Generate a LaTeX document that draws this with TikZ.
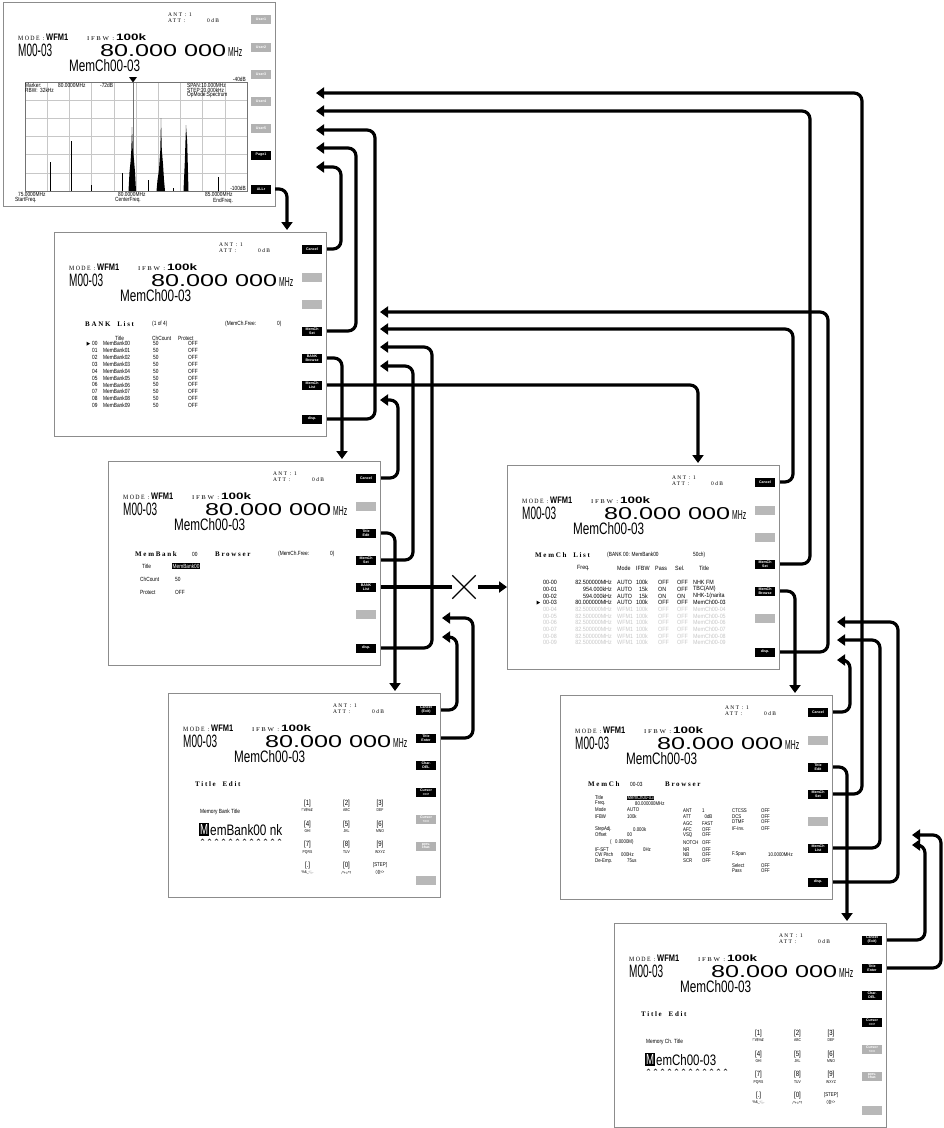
\documentclass[tikz,border=0pt]{standalone}
\usepackage{fontspec}
\usepackage{graphicx}
\setmainfont{Liberation Sans}
\newfontfamily\tnfam[FakeStretch=0.8]{Liberation Sans}
\newfontfamily\lsfam[FakeStretch=0.88]{Liberation Sans}
\newfontfamily\wdfam[LetterSpace=24]{Liberation Serif}
\usetikzlibrary{arrows.meta,calc,shapes.misc}
\newcommand\tnfont{\tnfam\fontsize{6}{6.5}\selectfont}
\newcommand\smfont{\tnfam\fontsize{5.4}{6}\selectfont}
\newcommand\spfont{\tnfam\fontsize{6}{6}\selectfont}
\newcommand\lsfont{\lsfam\fontsize{6.1}{7}\selectfont}
\newcommand\btnfont{\fontsize{3.6}{3.9}\selectfont\bfseries}
\newcommand\hdfont{\wdfam\bfseries\fontsize{7}{7}\selectfont}
\newcommand\atfont{\wdfam\fontsize{5.5}{6}\selectfont}
\newcommand\rb[3]{\resizebox{#1pt}{#2pt}{#3}}
\tikzset{
 scr/.style={draw=black!45,line width=0.8pt,fill=white,minimum width=272pt,minimum height=204pt,anchor=north west,inner sep=0pt,outer sep=0pt},
 kb/.style={fill=black,text=white,minimum width=20pt,minimum height=9pt,inner sep=0pt,font=\btnfont,align=center},
 kg/.style={fill=black!28,minimum width=20pt,minimum height=9pt,inner sep=0pt},
 kd/.style={fill=black!30,text=white,minimum width=20pt,minimum height=9pt,inner sep=0pt,font=\btnfont,align=center},
 tx/.style={inner sep=0pt,anchor=west,font=\tnfont},
 sx/.style={tx,font=\smfont},
 lt/.style={tx,font=\lsfont},
 kt/.style={inner sep=0pt,font=\tnfam\fontsize{7.5}{7.5}\selectfont},
 ks/.style={inner sep=0pt,font=\tnfam\fontsize{4.2}{4.2}\selectfont},
 grd/.style={draw=black!22,line width=0.5pt},
 conn/.style={line width=3.2pt,rounded corners=8pt},
 arr/.style={conn,-{Triangle[width=11pt,length=8pt]}},
}
\newcommand\ScrHead[1]{%
 \node[tx,anchor=base west,font=\atfont] (#1ant) at (165,14) {ANT : 1};
 \node[tx,anchor=base west,font=\atfont] (#1att) at (165,20) {ATT :};
 \node[tx,anchor=base west,font=\atfont] (#1db) at (204,20) {0dB};
 \node[tx,anchor=base west] (#1mode) at (15,38.5) {\rb{26}{4.3}{\wdfam MODE :}};
 \node[tx,anchor=base west] (#1wfm) at (43,38.5) {\rb{22}{6.5}{\bfseries WFM1}};
 \node[tx,anchor=base west] (#1ifbw) at (84,38.5) {\rb{27}{3.8}{\wdfam IFBW :}};
 \node[tx,anchor=base west] (#1bw) at (113,38.5) {\rb{30}{6.7}{\bfseries 100k}};
 \node[tx,anchor=base west] (#1ch) at (15,54) {\rb{34}{12.5}{M00-03}};
 \node[tx,anchor=base west] (#1fq) at (97,54) {\rb{126}{12}{80.000 000}};
 \node[tx,anchor=base west] (#1mhz) at (225,54) {\rb{14}{9}{MHz}};
 \node[tx,anchor=base west] (#1nm) at (66,69.5) {\rb{71}{12}{MemCh00-03}};
}
\newcommand\ScrBtn[4]{\node[#2] (#1) at (258,#3) {#4};}
\newcommand\ScrKey[5]{\node[kt] (#1) at (#2,#3) {#4}; \node[ks] (#1s) at (#2,#3+7) {#5};}
\newcommand\ScrTitleEdit[5]{%
 \node[tx,font=\hdfont] (#1te) at (27,91) {Title\ \ Edit};
 \node[tx] (#1lb) at (32,119) {#2};
 \node[fill=black,text=white,inner sep=0pt,minimum width=10pt,minimum height=13pt,anchor=south west] (#1cur) at (31,143) {\rb{8}{10}{M}};
 \node[tx,anchor=base west] (#1nmt) at (42,142) {\rb{#4}{11}{#3}};
 \foreach \q in {0,...,11} \draw[line width=0.4pt] (33+7*\q,147.5) -- (34.5+7*\q,146) -- (36+7*\q,147.5);
 \ScrKey{#1k1}{139.5+#5}{110.5}{[1]}{!"\#\$\%\&'}
 \ScrKey{#1k2}{178.5+#5}{110.5}{[2]}{ABC}
 \ScrKey{#1k3}{212+#5}{110.5}{[3]}{DEF}
 \ScrKey{#1k4}{139.5+#5}{131.5}{[4]}{GHI}
 \ScrKey{#1k5}{178.5+#5}{131.5}{[5]}{JKL}
 \ScrKey{#1k6}{212+#5}{131.5}{[6]}{MNO}
 \ScrKey{#1k7}{139.5+#5}{152}{[7]}{PQRS}
 \ScrKey{#1k8}{178.5+#5}{152}{[8]}{TUV}
 \ScrKey{#1k9}{212+#5}{152}{[9]}{WXYZ}
 \ScrKey{#1k10}{139.5+#5}{172.5}{[.]}{\%\&\_-:;,.}
 \ScrKey{#1k11}{178.5+#5}{172.5}{[0]}{/*+=\textasciicircum?}
 \ScrKey{#1k12}{212+#5}{172.5}{\fontsize{5.5}{5.5}\selectfont[STEP]}{()[]|<>}
 \ScrBtn{#1b1}{kb}{17}{Cancel\\(Exit)}
 \ScrBtn{#1b2}{kb}{45}{Title\\Enter}
 \ScrBtn{#1b3}{kb}{72}{Char.\\DEL}
 \ScrBtn{#1b4}{kb}{99}{Cursor\\==>}
 \ScrBtn{#1b5}{kd}{126}{Cursor\\<==}
 \ScrBtn{#1b6}{kd}{153}{prev.\\char.}
 \ScrBtn{#1b7}{kg}{187}{}
}
\begin{document}
\begin{tikzpicture}[x=1pt,y=-1pt]
\useasboundingbox (0,0) rectangle (945,1128);
\fill[white] (0,0) rectangle (945,1128);
\draw[red!25,line width=0.8pt] (944,0) -- (944,1128);

% ---------- S1 spectrum
\begin{scope}[shift={(3,2)}]
\node[scr] (s1) at (0,0) {};
\ScrHead{s1}
\foreach \i in {0,...,10} \draw[grd] (22+22.2*\i,80) -- (22+22.2*\i,189);
\foreach \j in {0,...,6} \draw[grd] (22,80+18.17*\j) -- (244,80+18.17*\j);
\draw[black!55,line width=0.5pt] (22,80) rectangle (244,189);
\draw[black!55,line width=0.5pt] (130,80) -- (130,189);
\fill (126,75) -- (134,75) -- (130,80.5) -- cycle;
\draw[line width=0.9pt] (47,189) -- (47,160);
\draw[line width=0.9pt] (68,189) -- (68,139);
\draw[line width=0.7pt] (88,189) -- (88,183);
\draw[line width=0.8pt] (119,189) -- (119,171);
\fill (125.5,189) -- (126.5,170) -- (127.5,160) -- (128.3,148) -- (129,125) -- (129.8,148) -- (131,158) -- (132,170) -- (133,189) -- cycle;
\draw[line width=1pt] (145,189) -- (145,178);
\fill (153.5,189) -- (154.5,178) -- (156,168) -- (157.3,148) -- (158,116) -- (158.8,148) -- (160,162) -- (161,178) -- (162,189) -- cycle;
\draw[line width=1pt] (170,189) -- (170,186);
\fill (180.5,189) -- (181.8,160) -- (183,123) -- (184.2,140) -- (185.5,189) -- cycle;
\draw[line width=0.8pt] (215,189) -- (215,175);
\node[tx,font=\spfont] (s1mk) at (22,83.7) {Marker:};
\node[tx,font=\spfont] (s1mf) at (55,83.7) {80.0000MHz};
\node[tx,font=\spfont] (s1md) at (97,83.7) {-72dB};
\node[tx,font=\spfont] (s1rb) at (22,88.5) {RBW:};
\node[tx,font=\spfont] (s1rv) at (37,88.5) {32kHz};
\node[tx,font=\spfont] (s1sp) at (184,83) {SPAN:10.000MHz};
\node[tx,font=\spfont] (s1st) at (184,88) {STEP:20.000kHz};
\node[tx,font=\spfont] (s1op) at (184,93) {OpMode:Spectrum};
\node[tx,font=\spfont,anchor=east] (s1top) at (243,77) {-40dB};
\node[tx,font=\spfont,anchor=east] (s1bot) at (243,186) {-100dB};
\node[tx,font=\spfont] (s1f1) at (15,192) {75.0000MHz};
\node[tx,font=\spfont] (s1f1b) at (12,198.5) {StartFreq.};
\node[tx,font=\spfont] (s1f2) at (115,192) {80.0000MHz};
\node[tx,font=\spfont] (s1f2b) at (112,198.5) {CenterFreq.};
\node[tx,font=\spfont] (s1f3) at (202,192) {85.0000MHz};
\node[tx,font=\spfont] (s1f3b) at (210,198.5) {EndFreq.};
\ScrBtn{s1b1}{kd}{17}{User1}
\ScrBtn{s1b2}{kd}{45}{User2}
\ScrBtn{s1b3}{kd}{72}{User3}
\ScrBtn{s1b4}{kd}{99}{User4}
\ScrBtn{s1b5}{kd}{126}{User5}
\ScrBtn{s1b6}{kb}{153}{Page1}
\ScrBtn{s1b7}{kb}{187}{ALLr}
\end{scope}

% ---------- S2 bank list
\begin{scope}[shift={(54,232)}]
\node[scr] (s2) at (0,0) {};
\ScrHead{s2}
\node[tx,font=\hdfont] (s2t) at (31,92) {BANK\ \ List};
\node[tx] (s2pg) at (98,92) {(1 of 4)};
\node[tx] (s2fr) at (171,92) {(MemCh.Free:};
\node[tx] (s2fr0) at (223,92) {0)};
\node[tx] (s2h1) at (61,106.5) {Title};
\node[tx] (s2h2) at (98,106.5) {ChCount};
\node[tx] (s2h3) at (124,106.5) {Protect};
\fill (32.5,109.7) -- (36,111.7) -- (32.5,113.7) -- cycle;
\foreach \i in {0,...,9} {
  \node[tx] (s2n\i) at (38,111.7+6.87*\i) {0\i};
  \node[tx] (s2m\i) at (49,111.7+6.87*\i) {MemBank0\i};
  \node[tx] (s2c\i) at (99,111.7+6.87*\i) {50};
  \node[tx] (s2p\i) at (134,111.7+6.87*\i) {OFF};
}
\ScrBtn{s2b1}{kb}{17}{Cancel}
\ScrBtn{s2b2}{kg}{45}{}
\ScrBtn{s2b3}{kg}{72}{}
\ScrBtn{s2b4}{kb}{99}{MemCh\\Set}
\ScrBtn{s2b5}{kb}{126}{BANK\\Browse}
\ScrBtn{s2b6}{kb}{153}{MemCh\\List}
\ScrBtn{s2b7}{kb}{187}{disp.}
\end{scope}

% ---------- S3 bank browser
\begin{scope}[shift={(108,461)}]
\node[scr] (s3) at (0,0) {};
\ScrHead{s3}
\node[tx,font=\hdfont] (s3t1) at (27,93) {MemBank};
\node[tx] (s3t2) at (84,93) {00};
\node[tx,font=\hdfont] (s3t3) at (107,93) {Browser};
\node[tx] (s3t4) at (170,93) {(MemCh.Free:};
\node[tx] (s3t5) at (222,93) {0)};
\node[tx] (s3l1) at (34,105) {Title};
\node[tx,fill=black,text=white,inner sep=0.4pt] (s3v1) at (64,105) {MemBank00};
\node[tx] (s3l2) at (32,118) {ChCount};
\node[tx] (s3v2) at (67,118) {50};
\node[tx] (s3l3) at (32,131) {Protect};
\node[tx] (s3v3) at (67,131) {OFF};
\ScrBtn{s3b1}{kb}{17}{Cancel}
\ScrBtn{s3b2}{kg}{45}{}
\ScrBtn{s3b3}{kb}{72}{Title\\Edit}
\ScrBtn{s3b4}{kb}{99}{MemCh\\Set}
\ScrBtn{s3b5}{kb}{126}{BANK\\List}
\ScrBtn{s3b6}{kg}{153}{}
\ScrBtn{s3b7}{kb}{187}{disp.}
\end{scope}

% ---------- S4 title edit (bank)
\begin{scope}[shift={(168,693)}]
\node[scr] (s4) at (0,0) {};
\ScrHead{s4}
\ScrTitleEdit{s4}{Memory Bank Title}{emBank00 nk}{72}{0}
\end{scope}

% ---------- S5 memch list
\begin{scope}[shift={(507,465)}]
\node[scr] (s5) at (0,0) {};
\ScrHead{s5}
\node[tx,font=\hdfont] (s5t1) at (28,90) {MemCh\ \ List};
\node[tx] (s5t2) at (100,90) {(BANK 00: MemBank00};
\node[tx] (s5t3) at (186,90) {50ch)};
\node[lt] (s5h1) at (70,103.4) {Freq.};
\node[lt] (s5h2) at (110,103.4) {Mode};
\node[lt] (s5h3) at (129,103.4) {IFBW};
\node[lt] (s5h4) at (148,103.4) {Pass};
\node[lt] (s5h5) at (168,103.4) {Sel.};
\node[lt] (s5h6) at (192,103.4) {Title};
\foreach \id/\fr/\md/\bw/\ps/\sl/\ti [count=\k] in {00-00/82.500000MHz/AUTO/100k/OFF/OFF/NHK FM, 00-01/954.000kHz/AUTO/15k/ON/OFF/TBC(AM), 00-02/594.000kHz/AUTO/15k/ON/ON/NHK-1(narita, 00-03/80.000000MHz/AUTO/100k/OFF/OFF/MemCh00-03} {
  \pgfmathsetmacro\yy{117.6+6.67*(\k-1)}
  \node[lt] (s5ra\k) at (36,\yy) {\id};
  \node[lt,anchor=east] (s5rb\k) at (105,\yy) {\fr};
  \node[lt] (s5rc\k) at (110,\yy) {\md};
  \node[lt,anchor=east] (s5rd\k) at (141,\yy) {\bw};
  \node[lt] (s5re\k) at (151,\yy) {\ps};
  \node[lt] (s5rf\k) at (170,\yy) {\sl};
  \node[lt] (s5rg\k) at (186,\yy) {\ti};
}
\foreach \i in {4,...,9} {
  \pgfmathsetmacro\yy{117.6+6.67*\i}
  \node[lt,text=black!22] (s5ga\i) at (36,\yy) {00-0\i};
  \node[lt,text=black!22,anchor=east] (s5gb\i) at (105,\yy) {82.500000MHz};
  \node[lt,text=black!22] (s5gc\i) at (110,\yy) {WFM1};
  \node[lt,text=black!22,anchor=east] (s5gd\i) at (141,\yy) {100k};
  \node[lt,text=black!22] (s5ge\i) at (151,\yy) {OFF};
  \node[lt,text=black!22] (s5gf\i) at (170,\yy) {OFF};
  \node[lt,text=black!22] (s5gg\i) at (186,\yy) {MemCh00-0\i};
}
\fill (29.5,135.6) -- (33,137.6) -- (29.5,139.6) -- cycle;
\ScrBtn{s5b1}{kb}{17}{Cancel}
\ScrBtn{s5b2}{kg}{45}{}
\ScrBtn{s5b3}{kg}{72}{}
\ScrBtn{s5b4}{kb}{99}{MemCh\\Set}
\ScrBtn{s5b5}{kb}{126}{MemCh\\Browse}
\ScrBtn{s5b6}{kg}{153}{}
\ScrBtn{s5b7}{kb}{187}{disp.}
\end{scope}

% ---------- S6 memch browser
\begin{scope}[shift={(560,695)}]
\node[scr] (s6) at (0,0) {};
\ScrHead{s6}
\node[tx,font=\hdfont] (s6t1) at (28,89) {MemCh};
\node[tx] (s6t2) at (70,89) {00-03};
\node[tx,font=\hdfont] (s6t3) at (105,89) {Browser};
\foreach \t/\yy [count=\k] in {Title/102.8, Freq./108.3, Mode/115, IFBW/121.7, StepAdj./134.5, Offset/140, IF-SFT/154.5, CW Pitch/159.8, De-Emp./166} \node[sx] (s6l\k) at (35,\yy) {\t};
\node[sx,fill=black,text=white,inner sep=0.3pt] (s6v1) at (67,102.8) {MemCh00-03};
\node[sx] (s6v2) at (75,108.3) {80.000000MHz};
\node[sx] (s6v3) at (67,115) {AUTO};
\node[sx] (s6v4) at (67,121.7) {100k};
\node[sx] (s6v5) at (73,134.5) {0.000k};
\node[sx] (s6v6) at (67,140) {00};
\node[sx] (s6v7) at (50,147.5) {(\ \ \ 0.0000M)};
\node[sx] (s6v8) at (83,154.5) {0Hz};
\node[sx] (s6v9) at (61,159.8) {000Hz};
\node[sx] (s6v10) at (67,166) {75us};
\foreach \t/\v/\yy [count=\k] in {ANT/1/115.3, ATT/{\ \ 0dB}/122, AGC/FAST/128.4, AFC/OFF/134.5, VSQ/OFF/140, NOTCH/OFF/147.5, NR/OFF/154.3, NB/OFF/159.8, SCR/OFF/166} {
  \node[sx] (s6m\k) at (123,\yy) {\t};
  \node[sx] (s6n\k) at (142,\yy) {\v};
}
\foreach \t/\yy [count=\k] in {CTCSS/115.5, DCS/121.3, DTMF/127, IF-Inv./133.3, Select/170.3, Pass/175.9} {
  \node[sx] (s6r\k) at (172,\yy) {\t};
  \node[sx] (s6s\k) at (201,\yy) {OFF};
}
\node[sx] (s6sp) at (172,159.3) {F.Span};
\node[sx] (s6spv) at (208,159.3) {10.0000MHz};
\ScrBtn{s6b1}{kb}{17}{Cancel}
\ScrBtn{s6b2}{kg}{45}{}
\ScrBtn{s6b3}{kb}{72}{Title\\Edit}
\ScrBtn{s6b4}{kb}{99}{MemCh\\Set}
\ScrBtn{s6b5}{kg}{126}{}
\ScrBtn{s6b6}{kb}{153}{MemCh\\List}
\ScrBtn{s6b7}{kb}{187}{disp.}
\end{scope}

% ---------- S7 title edit (memch)
\begin{scope}[shift={(614,923)}]
\node[scr] (s7) at (0,0) {};
\ScrHead{s7}
\ScrTitleEdit{s7}{Memory Ch. Title}{emCh00-03}{60}{5}
\end{scope}

% ---------- free arrow ends
\coordinate (toS1a) at (316,93);
\coordinate (toS1b) at (316,111);
\coordinate (toS1c) at (316,130);
\coordinate (toS1d) at (316,148);
\coordinate (toS1e) at (316,167);
\coordinate (toS2a) at (380,312);
\coordinate (toS2b) at (380,329);
\coordinate (toS2c) at (380,347);
\coordinate (toS2d) at (380,366);
\coordinate (toS2e) at (380,400);
\coordinate (toS3a) at (442,618);
\coordinate (toS3b) at (442,637);
\coordinate (toS5a) at (837,622);
\coordinate (toS5b) at (837,640);
\coordinate (toS5c) at (837,660);
\coordinate (toS6a) at (912,835);
\coordinate (toS6b) at (912,845);

% ---------- connectors
\draw[arr] ($(s1b7.east)+(4,0)$) -| ($(s2.north west)+(233,-2)$);
\draw[arr] ($(s2b5.east)+(5,0)$) -| ($(s3.north west)+(234,-2)$);
\draw[arr] ($(s2b6.east)+(5,0)$) -| ($(s5.north west)+(191,-2)$);
\draw[arr] ($(s3b3.east)+(5,0)$) -| ($(s4.north west)+(227,-2)$);
\draw[arr] ($(s5b5.east)+(5,0)$) -| ($(s6.north west)+(235,-2)$);
\draw[arr] ($(s6b3.east)+(5,0)$) -| ($(s7.north west)+(233,-2)$);

\draw[arr] ($(s6b4.east)+(5,0)$) -| (862,93) -- (toS1a);
\draw[arr] ($(s5b4.east)+(5,0)$) -| (810,111) -- (toS1b);
\draw[arr] ($(s2b7.east)+(5,0)$) -| (375,130) -- (toS1c);
\draw[arr] ($(s2b4.east)+(5,0)$) -| (356,148) -- (toS1d);
\draw[arr] ($(s2b1.east)+(5,0)$) -| (341,167) -- (toS1e);

\draw[arr] ($(s5b7.east)+(5,0)$) -| (828,312) -- (toS2a);
\draw[arr] ($(s5b1.east)+(5,0)$) -| (793,329) -- (toS2b);
\draw[arr] ($(s3b7.east)+(5,0)$) -| (432,347) -- (toS2c);
\draw[arr] ($(s3b4.east)+(5,0)$) -| (413,366) -- (toS2d);
\draw[arr] ($(s3b1.east)+(5,0)$) -| (398,400) -- (toS2e);

\node[draw,cross out,line width=1.3pt,minimum size=22pt,inner sep=0pt] (xc) at (464,587) {};
\draw[conn] ($(s3b5.east)+(5,0)$) -- (xc.west);
\draw[arr] ($(xc.east)+(2,0)$) -- (s5.west |- xc.east);

\draw[arr] ($(s4b2.east)+(5,0)$) -| (473,618) -- (toS3a);
\draw[arr] ($(s4b1.east)+(5,0)$) -| (457,637) -- (toS3b);

\draw[arr] ($(s6b7.east)+(5,0)$) -| (898,622) -- (toS5a);
\draw[arr] ($(s6b6.east)+(5,0)$) -| (880,640) -- (toS5b);
\draw[arr] ($(s6b1.east)+(5,0)$) -| (850,660) -- (toS5c);

\draw[arr] ($(s7b2.east)+(5,0)$) -| (941,835) -- (toS6a);
\draw[arr] ($(s7b1.east)+(5,0)$) -| (925,845) -- (toS6b);
\end{tikzpicture}
\end{document}
